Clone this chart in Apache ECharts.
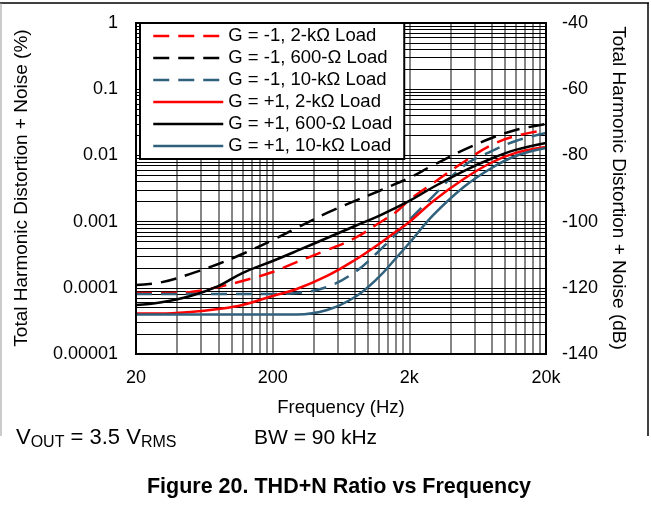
<!DOCTYPE html>
<html><head><meta charset="utf-8">
<script src="https://cdn.jsdelivr.net/npm/echarts@6/dist/echarts.min.js"></script>
<style>html,body{margin:0;padding:0;background:#fff}#c{width:651px;height:525px}</style>
</head><body><div id="c"></div>
<script>
// Frequency (Hz)
const freqs = [20, 30, 50, 80, 120, 200, 300, 500, 800, 1200, 1600, 2000, 3000, 5000, 8000, 12000, 20000];
// THD+N (%)
const gm1_2k  = [8.34e-5, 8.34e-5, 8.65e-5, 1.03e-4, 1.27e-4, 1.73e-4, 2.45e-4, 3.72e-4, 5.65e-4, 9.53e-4, 1.40e-3, 2.12e-3, 3.83e-3, 7.95e-3, 0.0144, 0.0196, 0.0242];
const gm1_600 = [1.10e-4, 1.20e-4, 1.62e-4, 2.29e-4, 3.24e-4, 5.27e-4, 8.0e-4, 1.35e-3, 2.05e-3, 2.90e-3, 3.75e-3, 4.56e-3, 7.16e-3, 0.0121, 0.0183, 0.0242, 0.0298];
const gm1_10k = [8.06e-5, 8.06e-5, 8.06e-5, 8.06e-5, 8.06e-5, 8.06e-5, 8.34e-5, 1.03e-4, 1.73e-4, 3.60e-4, 6.5e-4, 1.06e-3, 2.44e-3, 6.92e-3, 0.0116, 0.0165, 0.0218];
const gp1_2k  = [4.09e-5, 4.09e-5, 4.31e-5, 4.78e-5, 5.50e-5, 7.52e-5, 9.59e-5, 1.51e-4, 2.63e-4, 4.59e-4, 7.08e-4, 9.86e-4, 2.05e-3, 4.40e-3, 7.81e-3, 0.0109, 0.0134];
const gp1_600 = [5.50e-5, 6.0e-5, 7.52e-5, 1.06e-4, 1.67e-4, 2.54e-4, 3.60e-4, 5.65e-4, 8.58e-4, 1.22e-3, 1.63e-3, 2.05e-3, 3.33e-3, 5.81e-3, 8.98e-3, 0.0121, 0.0154];
const gp1_10k = [3.95e-5, 3.95e-5, 3.95e-5, 3.95e-5, 3.95e-5, 3.95e-5, 3.95e-5, 4.62e-5, 7.26e-5, 1.46e-4, 2.82e-4, 4.75e-4, 1.26e-3, 3.33e-3, 6.46e-3, 9.8e-3, 0.0129];

const seriesNames = ['G = -1, 2-kΩ Load', 'G = -1, 600-Ω Load', 'G = -1, 10-kΩ Load',
                     'G = +1, 2-kΩ Load', 'G = +1, 600-Ω Load', 'G = +1, 10-kΩ Load'];

// ticks
const xTicks = [20, 200, 2000, 20000];
const xTickLabels = ['20', '200', '2k', '20k'];
const yTicks = [0.00001, 0.0001, 0.001, 0.01, 0.1, 1];
const yTickLabels = ['0.00001', '0.0001', '0.001', '0.01', '0.1', '1'];

// grid line positions (log minors)
const xDecadeStarts = [20, 200, 2000];
const yDecadeStarts = [0.00001, 0.0001, 0.001, 0.01, 0.1];

const RED = '#ff0000', BLACK = '#000000', BLUE = '#2f607c';
const FONT = 'Liberation Sans, Arial, sans-serif';

function nearestIdx(arr, v) {
  let best = 0, bd = Infinity;
  arr.forEach((a, i) => { const d = Math.abs(Math.log10(a) - Math.log10(v)); if (d < bd) { bd = d; best = i; } });
  return best;
}

const vLines = [];
xDecadeStarts.forEach(d => { for (let k = 2; k <= 10; k++) { const v = d * k; if (v < 20000) vLines.push(v); } });
const hLines = [];
yDecadeStarts.forEach(d => { for (let k = 2; k <= 10; k++) { const v = d * k; if (v < 0.99) hLines.push(v); } });

const gridMarks = [];
vLines.forEach(v => gridMarks.push({ xAxis: v, lineStyle: { color: '#5e5e5e', width: 1.5, type: 'solid' } }));
hLines.forEach(v => gridMarks.push({ yAxis: v, lineStyle: { color: '#000', width: 1, type: 'solid' } }));

const DASH = [16, 9];
function mk(name, arr, color, dashed) {
  return {
    name, type: 'line', xAxisIndex: 0, yAxisIndex: 0,
    data: freqs.map((f, i) => [f, arr[i]]),
    smooth: 0.4, symbol: 'none', showSymbol: false, z: 10,
    lineStyle: { color, width: 2.5, type: dashed ? DASH : 'solid' },
    itemStyle: { color },
    animation: false
  };
}

const chart = echarts.init(document.getElementById('c'));
chart.setOption({
  animation: false,
  backgroundColor: '#fff',
  grid: { left: 136, right: 105, top: 23, bottom: 171, show: false },
  legend: {
    orient: 'vertical', left: 140, top: 23,
    backgroundColor: '#fff', borderColor: '#000', borderWidth: 2,
    padding: [2, 12, 2, 12], itemGap: 0, itemWidth: 70, itemHeight: 14,
    textStyle: { fontFamily: FONT, fontSize: 18.5, color: '#000', lineHeight: 22 },
    lineStyle: { width: 2.5 },
    itemStyle: { opacity: 0, borderWidth: 0 },
    data: seriesNames, z: 30
  },
  xAxis: {
    type: 'log', logBase: 10, min: 20, max: 20000,
    axisLine: { show: false }, axisTick: { show: false }, splitLine: { show: false },
    minorTick: { show: false }, minorSplitLine: { show: false },
    axisLabel: {
      customValues: xTicks, margin: 15, fontFamily: FONT, fontSize: 18, color: '#000',
      formatter: v => xTickLabels[nearestIdx(xTicks, v)]
    }
  },
  yAxis: [{
    type: 'log', logBase: 10, min: 0.00001, max: 1,
    axisLine: { show: false }, axisTick: { show: false }, splitLine: { show: false },
    minorTick: { show: false }, minorSplitLine: { show: false },
    axisLabel: {
      customValues: yTicks, margin: 18, fontFamily: FONT, fontSize: 18, color: '#000',
      formatter: v => yTickLabels[nearestIdx(yTicks, v)]
    }
  }, {
    type: 'value', min: -140, max: -40, interval: 20, position: 'right',
    axisLine: { show: false }, axisTick: { show: false }, splitLine: { show: false },
    axisLabel: { margin: 16, fontFamily: FONT, fontSize: 18, color: '#000' }
  }],
  series: [
    {
      type: 'line', name: '_grid', xAxisIndex: 0, yAxisIndex: 0, data: [[20, 0.00001]],
      symbol: 'none', lineStyle: { opacity: 0 }, z: 1, silent: true,
      markLine: { z: 1, silent: true, precision: 12, symbol: ['none', 'none'], label: { show: false }, animation: false, data: gridMarks }
    },
    mk(seriesNames[0], gm1_2k, RED, true),
    mk(seriesNames[1], gm1_600, BLACK, true),
    mk(seriesNames[2], gm1_10k, BLUE, true),
    mk(seriesNames[3], gp1_2k, RED, false),
    mk(seriesNames[4], gp1_600, BLACK, false),
    mk(seriesNames[5], gp1_10k, BLUE, false)
  ],
  graphic: [
    { type: 'rect', z: 100, silent: true, shape: { x: 136, y: 23, width: 410, height: 331 },
      style: { fill: 'none', stroke: '#000', lineWidth: 2 } },
    { type: 'line', z: 100, silent: true, shape: { x1: 0, y1: 3, x2: 649, y2: 3 }, style: { stroke: '#000', lineWidth: 1.5 } },
    { type: 'line', z: 100, silent: true, shape: { x1: 648, y1: 3, x2: 648, y2: 436 }, style: { stroke: '#000', lineWidth: 1.5 } },
    { type: 'line', z: 100, silent: true, shape: { x1: 1, y1: 3, x2: 1, y2: 436 }, style: { stroke: '#999', lineWidth: 1 } },
    { type: 'text', x: 22, y: 188, rotation: Math.PI / 2, z: 100,
      style: { text: 'Total Harmonic Distortion + Noise (%)', font: '19px ' + FONT, fill: '#000', align: 'center', verticalAlign: 'middle' } },
    { type: 'text', x: 618, y: 188, rotation: -Math.PI / 2, z: 100,
      style: { text: 'Total Harmonic Distortion + Noise (dB)', font: '19px ' + FONT, fill: '#000', align: 'center', verticalAlign: 'middle' } },
    { type: 'text', x: 341, y: 408, z: 100,
      style: { text: 'Frequency (Hz)', font: '18.5px ' + FONT, fill: '#000', align: 'center', verticalAlign: 'middle' } },
    { type: 'text', x: 16, y: 438, z: 100,
      style: {
        text: '{m|V}{s|OUT}{m| = 3.5 V}{s|RMS}', fill: '#000', align: 'left', verticalAlign: 'middle',
        rich: {
          m: { fontFamily: FONT, fontSize: 22, fill: '#000', lineHeight: 26 },
          s: { fontFamily: FONT, fontSize: 16, fill: '#000', lineHeight: 26, padding: [10, 0, 0, 0] }
        }
      } },
    { type: 'text', x: 254, y: 438, z: 100,
      style: { text: 'BW = 90 kHz', font: '21px ' + FONT, fill: '#000', align: 'left', verticalAlign: 'middle' } },
    { type: 'text', x: 339, y: 487, z: 100,
      style: { text: 'Figure 20. THD+N Ratio vs Frequency', font: 'bold 21.5px ' + FONT, fill: '#000', align: 'center', verticalAlign: 'middle' } }
  ]
});
</script></body></html>
